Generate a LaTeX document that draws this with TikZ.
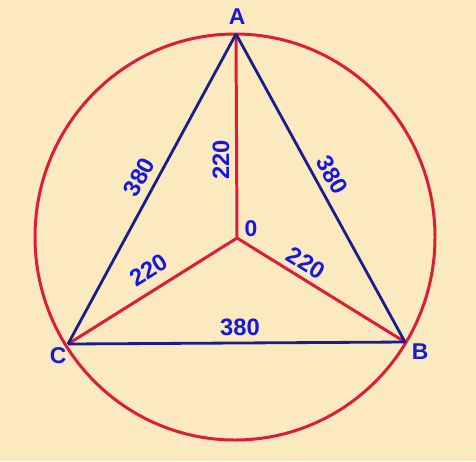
\documentclass[tikz,border=0pt]{standalone}
\usepackage{fontspec}
\setmainfont{Liberation Sans}
\definecolor{paper}{RGB}{251,234,192}
\definecolor{wire}{RGB}{222,28,58}
\definecolor{side}{RGB}{24,30,140}
\definecolor{lbl}{RGB}{20,24,225}
\tikzset{
    phase/.style={draw=wire, line width=1.7pt},
    line/.style={draw=side, line width=1.6pt},
    volt/.style={text=lbl, font=\fontsize{13.5}{15}\selectfont\bfseries, inner sep=0pt},
    vertex/.style={text=lbl, font=\fontsize{13}{15}\selectfont\bfseries, inner sep=0pt}
}
\begin{document}
\begin{tikzpicture}[x=0.02cm, y=-0.02cm]
        \fill[paper] (0, 0) rectangle (476, 461);
        \useasboundingbox (0, 0) rectangle (476, 461);

        \coordinate (A) at (236, 34);
        \coordinate (B) at (405, 342);
        \coordinate (C) at (68, 344);
        \coordinate (O) at (237, 238);

        \draw[wire, line width=1.7pt] (235, 237) ellipse (200 and 203);

        \draw[phase] (O) -- (A);
        \draw[phase] (O) -- (B);
        \draw[phase] (O) -- (C);

        \draw[line] (C) -- (A);
        \draw[line] (A) -- (B);
        \draw[line] (C) -- (B);

        \node[vertex] (labA) at (237, 17) {A};
        \node[vertex] (labB) at (420, 352) {B};
        \node[vertex] (labC) at (58, 356) {C};
        \node[vertex] (labO) at (251, 229) {0};

        \node[volt, rotate=61.5] (vCA) at (139, 177) {380};
        \node[volt, rotate=-61] (vAB) at (332, 175) {380};
        \node[volt] (vCB) at (240, 327) {380};
        \node[volt, rotate=90] (vOA) at (221, 160) {220};
        \node[volt, rotate=32] (vOC) at (149, 270) {220};
        \node[volt, rotate=-32] (vOB) at (306, 263) {220};
    \end{tikzpicture}
\end{document}
